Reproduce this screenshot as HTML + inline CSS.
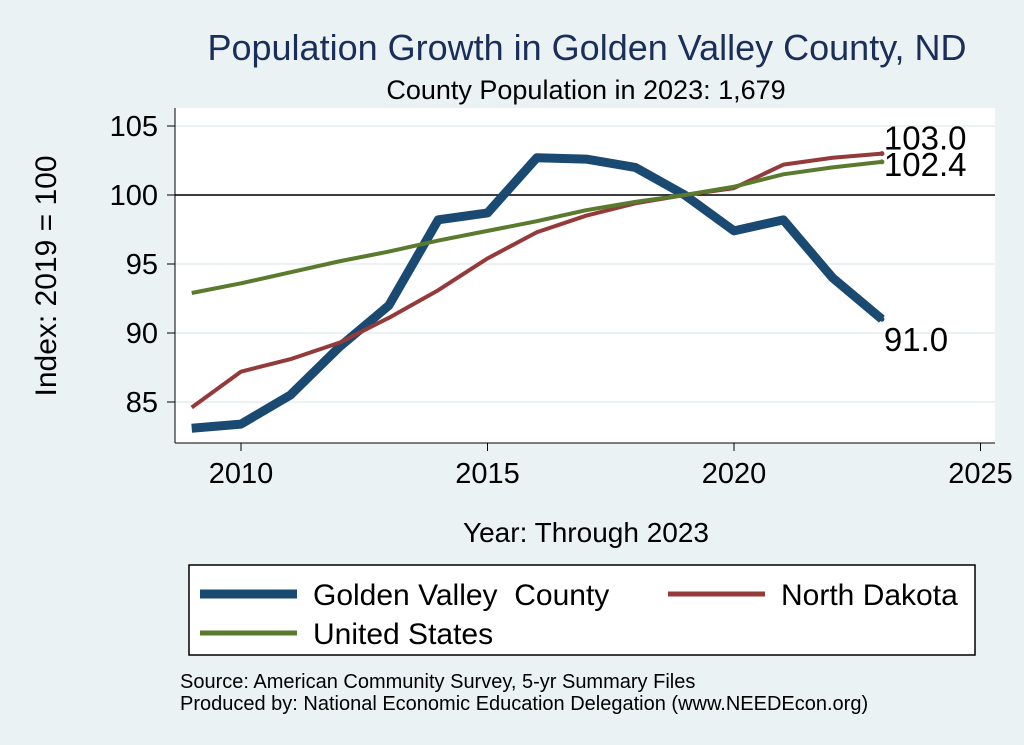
<!DOCTYPE html>
<html><head><meta charset="utf-8"><style>
body{margin:0;background:#eaf2f3;}
svg{display:block;font-family:"Liberation Sans",sans-serif;}
</style></head><body>
<svg width="1024" height="745">
<rect x="0" y="0" width="1024" height="745" fill="#eaf2f3"/>
<text x="587" y="60" font-size="36" fill="#1a2e5a" text-anchor="middle">Population Growth in Golden Valley County, ND</text>
<text x="586" y="99" font-size="27" fill="#000" text-anchor="middle">County Population in 2023: 1,679</text>
<rect x="175" y="108" width="820" height="335" fill="#fff"/>
<g id="grid"></g>
<g id="axes"></g>
<g id="series"></g>
<text x="56" y="276" font-size="30" text-anchor="middle" transform="rotate(-90 56 276)">Index: 2019 = 100</text>
<text x="586" y="542" font-size="28" text-anchor="middle">Year: Through 2023</text>
<g>
<rect x="189" y="565" width="786" height="90" fill="#fff" stroke="#000" stroke-width="1.5"/>
<g><line x1="200" y1="594" x2="297" y2="594" stroke="#1a4a72" stroke-width="9"/><text x="313" y="605" font-size="30" xml:space="preserve">Golden Valley  County</text></g>
<g><line x1="668" y1="594" x2="765" y2="594" stroke="#943a3a" stroke-width="5"/><text x="781" y="605" font-size="30">North Dakota</text></g>
<g><line x1="200" y1="633" x2="297" y2="633" stroke="#5a7a2e" stroke-width="5"/><text x="313" y="644" font-size="30">United States</text></g>
</g>
<text x="180" y="688" font-size="20">Source: American Community Survey, 5-yr Summary Files</text>
<text x="180" y="710" font-size="20">Produced by: National Economic Education Delegation (www.NEEDEcon.org)</text>
</svg>
<script>
const years=[2009,2010,2011,2012,2013,2014,2015,2016,2017,2018,2019,2020,2021,2022,2023];
const gv=[83.1,83.4,85.5,89.0,92.0,98.2,98.7,102.7,102.6,102.0,100,97.4,98.2,94.0,91.0];
const nd=[84.6,87.2,88.1,89.3,91.1,93.1,95.4,97.3,98.5,99.4,100,100.5,102.2,102.7,103.0];
const us=[92.9,93.6,94.4,95.2,95.9,96.7,97.4,98.1,98.9,99.5,100,100.6,101.5,102.0,102.4];
const xTicks=[2010,2015,2020,2025];
const yTicks=[85,90,95,100,105];
const NS="http://www.w3.org/2000/svg";
const X=v=>241+(v-2010)*49.3;
const Y=v=>195-(v-100)*13.8;
function mk(p,t,a){const e=document.createElementNS(NS,t);for(const k in a)e.setAttribute(k,a[k]);p.appendChild(e);return e;}
const grid=document.getElementById('grid'),axes=document.getElementById('axes'),ser=document.getElementById('series');
yTicks.forEach(v=>{
 const g=mk(grid,'line',{x1:175,x2:995,y1:Y(v),y2:Y(v),stroke:'#e6eef0','stroke-width':1.5});
 
 
 const t=mk(axes,'line',{x1:167,x2:175,y1:Y(v),y2:Y(v),stroke:'#000'});
 
 
 const l=mk(axes,'text',{x:158,y:Y(v)+10,'font-size':29,'text-anchor':'end'});l.textContent=v;
 
 
});
xTicks.forEach(v=>{
 const t=mk(axes,'line',{x1:X(v),x2:X(v),y1:443,y2:451,stroke:'#000'});
 
 
 const l=mk(axes,'text',{x:X(v),y:483,'font-size':29,'text-anchor':'middle'});l.textContent=v;
 
 
});
const ya=mk(axes,'line',{x1:175,x2:175,y1:108,y2:443,stroke:'#000'});


const xa=mk(axes,'line',{x1:175,x2:995,y1:443,y2:443,stroke:'#000'});


const ref=mk(axes,'line',{x1:175,x2:995,y1:Y(100),y2:Y(100),stroke:'#000','stroke-width':1.5});


function line(d,c,w,name){
 const p=mk(ser,'polyline',{points:d.map((v,i)=>X(years[i])+','+Y(v)).join(' '),fill:'none',stroke:c,'stroke-width':w,'stroke-linejoin':'round'});
 
 
}
line(gv,'#1a4a72',9,'golden-valley-line');
line(nd,'#943a3a',4,'north-dakota-line');
line(us,'#5a7a2e',4,'united-states-line');
const last=years.length-1;
[[gv,'#1a4a72',32,'golden-valley-end-label'],[nd,'#943a3a',-4,'north-dakota-end-label'],[us,'#5a7a2e',14,'united-states-end-label']].forEach(([d,c,dy,n])=>{
 mk(ser,'circle',{cx:X(years[last]),cy:Y(d[last]),r:2.5,fill:c});
 const t=mk(ser,'text',{x:X(years[last])+2,y:Y(d[last])+dy,'font-size':33});
 t.textContent=d[last].toFixed(1);
 
 
});
</script>
</body></html>
